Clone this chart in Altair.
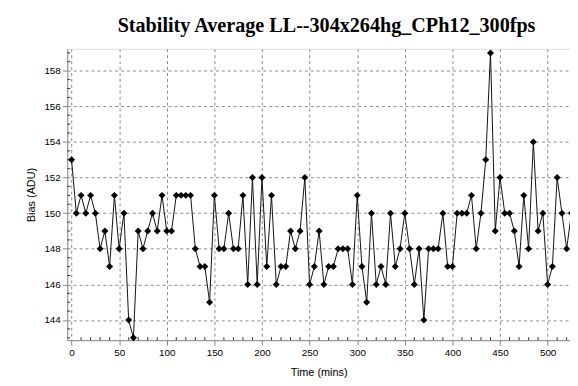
import altair as alt
import pandas as pd

title_text = "Stability Average LL--304x264hg_CPh12_300fps"
x_title = "Time (mins)"
y_title = "Bias (ADU)"

times = list(range(0, 530, 5))
bias = [153, 150, 151, 150, 151, 150, 148, 149, 147, 151, 148, 150, 144, 143, 149, 148, 149, 150, 149, 151,
        149, 149, 151, 151, 151, 151, 148, 147, 147, 145, 151, 148, 148, 150, 148, 148, 151, 146, 152, 146,
        152, 147, 151, 146, 147, 147, 149, 148, 149, 152, 146, 147, 149, 146, 147, 147, 148, 148, 148, 146,
        151, 147, 145, 150, 146, 147, 146, 150, 147, 148, 150, 148, 146, 148, 144, 148, 148, 148, 150, 147,
        147, 150, 150, 150, 151, 148, 150, 153, 159, 149, 152, 150, 150, 149, 147, 151, 148, 154, 149, 150,
        146, 147, 152, 150, 148, 150]

x_ticks = [0, 50, 100, 150, 200, 250, 300, 350, 400, 450, 500]
y_ticks = [144, 146, 148, 150, 152, 154, 156, 158]
x_minor = [v for v in range(10, 530, 10) if v % 50 != 0]
y_minor = [v / 2 for v in range(286, 319) if v % 4 != 0]

x_domain = [-4.5, 523.5]
y_domain = [142.87, 159.23]

df = pd.DataFrame({"t": times, "bias": bias})
dxm = pd.DataFrame({"t": x_minor})
dym = pd.DataFrame({"b": y_minor})

W, H = 509, 295

xs = alt.Scale(domain=x_domain, nice=False, zero=False)
ys = alt.Scale(domain=y_domain, nice=False, zero=False)

x_axis = alt.Axis(values=x_ticks, title=x_title, grid=True, gridDash=[3, 3], gridColor="#8a8a8a",
                  tickSize=5, labelPadding=3, titlePadding=9, titleFontWeight="normal")
y_axis = alt.Axis(values=y_ticks, title=y_title, grid=True, gridDash=[3, 3], gridColor="#8a8a8a",
                  tickSize=5, labelPadding=2, titlePadding=7, titleFontWeight="normal")

base = alt.Chart(df)
line = base.mark_line(color="#111111", strokeWidth=1).encode(
    x=alt.X("t:Q", scale=xs, axis=x_axis),
    y=alt.Y("bias:Q", scale=ys, axis=y_axis),
)
pts = base.mark_point(shape="diamond", filled=True, color="#000000", size=50, opacity=1).encode(
    x=alt.X("t:Q", scale=xs),
    y=alt.Y("bias:Q", scale=ys),
)
xminor = alt.Chart(dxm).mark_rule(color="#333333", strokeWidth=1).encode(
    x=alt.X("t:Q", scale=xs),
    y=alt.value(H - 3),
    y2=alt.value(H),
)
yminor = alt.Chart(dym).mark_rule(color="#333333", strokeWidth=1).encode(
    y=alt.Y("b:Q", scale=ys),
    x=alt.value(0),
    x2=alt.value(3),
)

chart = alt.layer(line, xminor, yminor, pts).properties(
    width=W,
    height=H,
    autosize=alt.AutoSizeParams(type="none"),
    padding={"left": 60, "top": 39, "right": 0, "bottom": 36},
    title=alt.TitleParams(title_text, font="Liberation Serif", fontSize=20.4, fontWeight="bold",
                          color="#000000", anchor="middle", frame="group", baseline="alphabetic",
                          offset=0, dx=8, dy=3),
).configure_view(
    stroke="#333333", strokeWidth=1
).configure_axis(
    labelFont="Liberation Sans", labelFontSize=11, labelColor="#000000",
    titleFont="Liberation Sans", titleFontSize=11, titleFontWeight="normal", titleColor="#000000",
    domainColor="#333333", tickColor="#333333",
).configure(background="white")

chart.save("out.html", embed_options={"renderer": "svg", "actions": False})
